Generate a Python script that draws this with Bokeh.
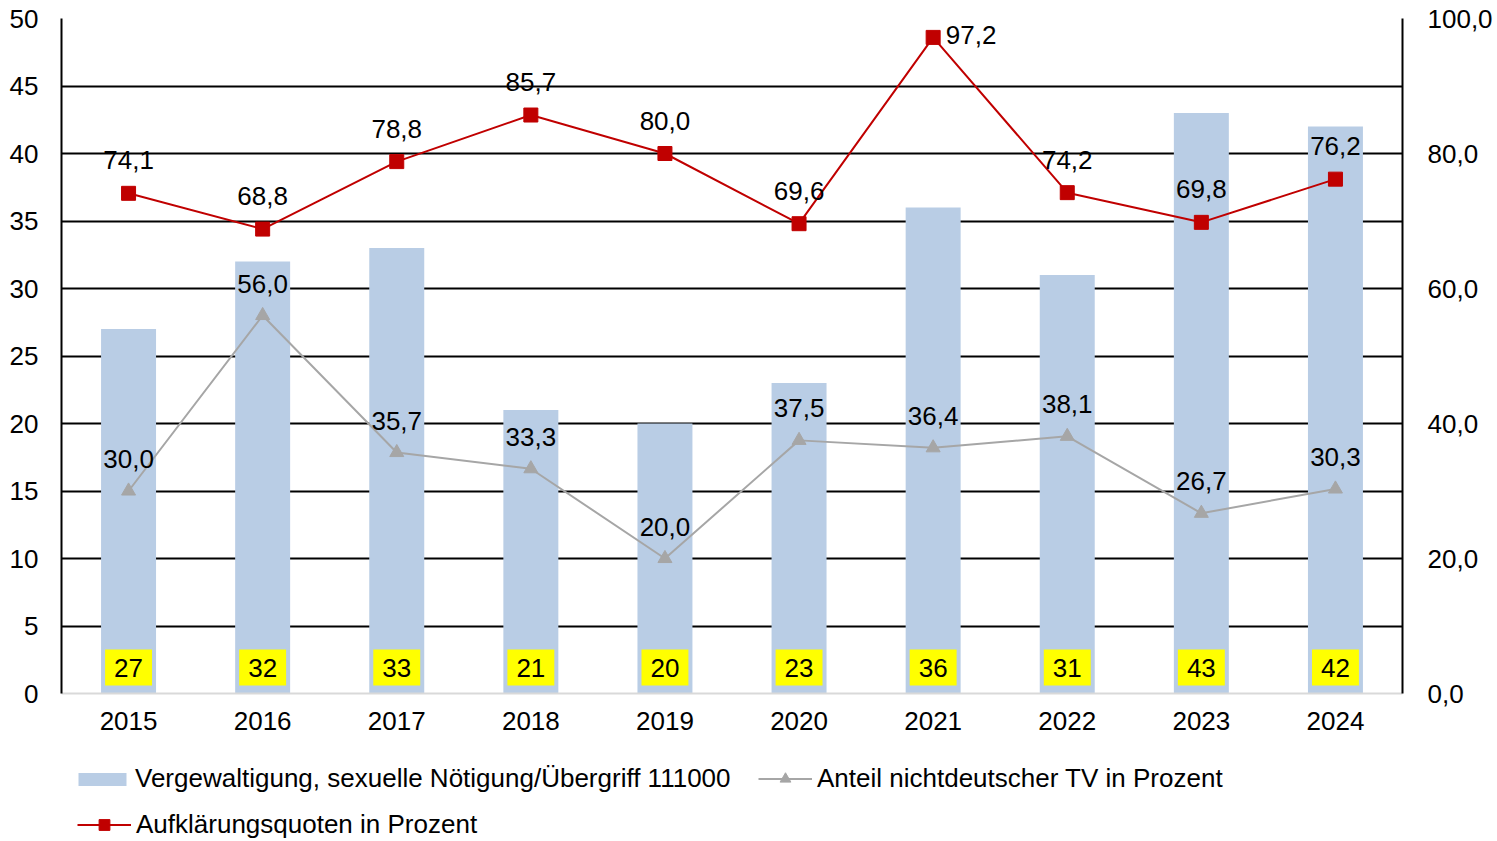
from bokeh.plotting import figure
from bokeh.models import (ColumnDataSource, LinearAxis, Range1d, FixedTicker, CustomJSTickFormatter,
                          LabelSet, Legend, LegendItem, FactorRange)
from bokeh.layouts import column
from bokeh.core.properties import value
from bokeh.embed import file_html
from bokeh.resources import INLINE

years = ["2015", "2016", "2017", "2018", "2019", "2020", "2021", "2022", "2023", "2024"]
cases = [27, 32, 33, 21, 20, 23, 36, 31, 43, 42]
clearance = [74.1, 68.8, 78.8, 85.7, 80.0, 69.6, 97.2, 74.2, 69.8, 76.2]
foreign_share = [30.0, 56.0, 35.7, 33.3, 20.0, 37.5, 36.4, 38.1, 26.7, 30.3]

name_bars = "Vergewaltigung, sexuelle Nötigung/Übergriff 111000"
name_gray = "Anteil nichtdeutscher TV in Prozent"
name_red = "Aufklärungsquoten in Prozent"

FONT = "Liberation Sans"
FS = "26px"
BAR_C = "#B9CDE5"
GRAY_C = "#A6A6A6"
RED_C = "#C00000"
W = 1495
H1 = 750
H2 = 90

def de(v):
    return f"{v:.1f}".replace(".", ",")

# labels near the top edge are moved beside their marker so they stay readable
src = ColumnDataSource(dict(
    year=years, cases=cases, case_lbl=[str(c) for c in cases], zero=[0] * len(cases),
    clr=clearance, clr_lbl=[de(v) for v in clearance],
    clr_dy=[33 if v < 95 else 2 for v in clearance],
    clr_dx=[0 if v < 95 else 38 for v in clearance],
    fs=foreign_share, fs_lbl=[de(v) for v in foreign_share],
))

p = figure(x_range=FactorRange(*years), y_range=Range1d(0, 50),
           width=W, height=H1,
           min_border_left=61, min_border_right=W - 1403, min_border_top=18, min_border_bottom=H1 - 693,
           output_backend="svg", toolbar_location=None)
p.extra_y_ranges = {"pct": Range1d(0, 100)}
p.outline_line_color = None
p.background_fill_color = "white"

# grid
p.xgrid.grid_line_color = None
p.ygrid.ticker = FixedTicker(ticks=[5, 10, 15, 20, 25, 30, 35, 40, 45, 50])
p.ygrid.grid_line_color = "black"
p.ygrid.grid_line_width = 2

def style_axis(ax, standoff, line_color="black"):
    ax.axis_line_color = line_color
    ax.axis_line_width = 2
    ax.major_tick_line_color = None
    ax.minor_tick_line_color = None
    ax.major_tick_out = 0
    ax.major_tick_in = 0
    ax.minor_tick_out = 0
    ax.minor_tick_in = 0
    ax.major_label_standoff = standoff
    ax.major_label_text_font = FONT
    ax.major_label_text_font_size = FS
    ax.major_label_text_color = "black"

# left axis
yl = p.yaxis[0]
yl.ticker = FixedTicker(ticks=list(range(0, 51, 5)))
style_axis(yl, 23)

# right axis
yr = LinearAxis(y_range_name="pct", ticker=FixedTicker(ticks=[0, 20, 40, 60, 80, 100]),
                formatter=CustomJSTickFormatter(code="return tick.toFixed(1).replace('.', ',');"))
style_axis(yr, 25)
p.add_layout(yr, "right")

# x axis
style_axis(p.xaxis[0], 18, "#D9D9D9")

# bars
p.vbar(x="year", top="cases", width=0.41, source=src, fill_color=BAR_C, line_color=None)

# gray line
p.line(x="year", y="fs", source=src, y_range_name="pct", line_color=GRAY_C, line_width=2)
p.scatter(x="year", y="fs", source=src, y_range_name="pct", marker="triangle", size=14,
          fill_color=GRAY_C, line_color=GRAY_C)

# red line
p.line(x="year", y="clr", source=src, y_range_name="pct", line_color=RED_C, line_width=2)
p.scatter(x="year", y="clr", source=src, y_range_name="pct", marker="square", size=14,
          fill_color=RED_C, line_color=RED_C)

# labels
p.add_layout(LabelSet(x="year", y="clr", text="clr_lbl", source=src, y_range_name="pct",
                      x_offset="clr_dx", y_offset="clr_dy", text_align="center", text_baseline="middle",
                      text_font=value(FONT), text_font_size=FS, text_color="black"))
p.add_layout(LabelSet(x="year", y="fs", text="fs_lbl", source=src, y_range_name="pct",
                      y_offset=32, text_align="center", text_baseline="middle",
                      text_font=value(FONT), text_font_size=FS, text_color="black"))
p.text(x="year", y="zero", text="case_lbl", source=src,
       y_offset=-26, text_align="center", text_baseline="middle",
       text_font=value(FONT), text_font_size=FS, text_color="black",
       background_fill_color="#FFFF00",
       padding=dict(left=9, right=9, top=9, bottom=9))

# legend strip below the chart (legend-only glyphs, kept outside the visible range)
q = figure(width=W, height=H2, x_range=Range1d(0, 1), y_range=Range1d(0, 1),
           min_border_left=0, min_border_right=0, min_border_top=0, min_border_bottom=0,
           output_backend="svg", toolbar_location=None)
q.axis.visible = False
q.grid.visible = False
q.outline_line_color = None
dummy = ColumnDataSource(dict(x=[-5], y=[-5]))
lb = q.vbar(x="x", top="y", bottom="y", width=0.4, source=dummy, fill_color=BAR_C, line_color=None)
lg1 = q.line(x="x", y="y", source=dummy, line_color=GRAY_C, line_width=2)
lg2 = q.scatter(x="x", y="y", source=dummy, marker="triangle", fill_color=GRAY_C, line_color=GRAY_C)
lr1 = q.line(x="x", y="y", source=dummy, line_color=RED_C, line_width=2)
lr2 = q.scatter(x="x", y="y", source=dummy, marker="square", fill_color=RED_C, line_color=RED_C)

def mk_legend(label, rends, loc, gw, gh, standoff):
    return Legend(items=[LegendItem(label=label, renderers=rends)], location=loc,
                  orientation="horizontal",
                  label_text_font=FONT, label_text_font_size=FS, label_text_color="black",
                  glyph_width=gw, glyph_height=gh, label_height=30, label_standoff=standoff,
                  padding=0, margin=0, border_line_color=None, background_fill_alpha=0)

q.add_layout(mk_legend(name_bars, [lb], (11, 46), 60, 16, 3))
q.add_layout(mk_legend(name_gray, [lg1, lg2], (697, 46), 54, 27, 5))
q.add_layout(mk_legend(name_red, [lr1, lr2], (16, 0), 54, 27, 5))

layout = column(p, q, spacing=0)
open("out.html", "w").write(file_html(layout, INLINE))
